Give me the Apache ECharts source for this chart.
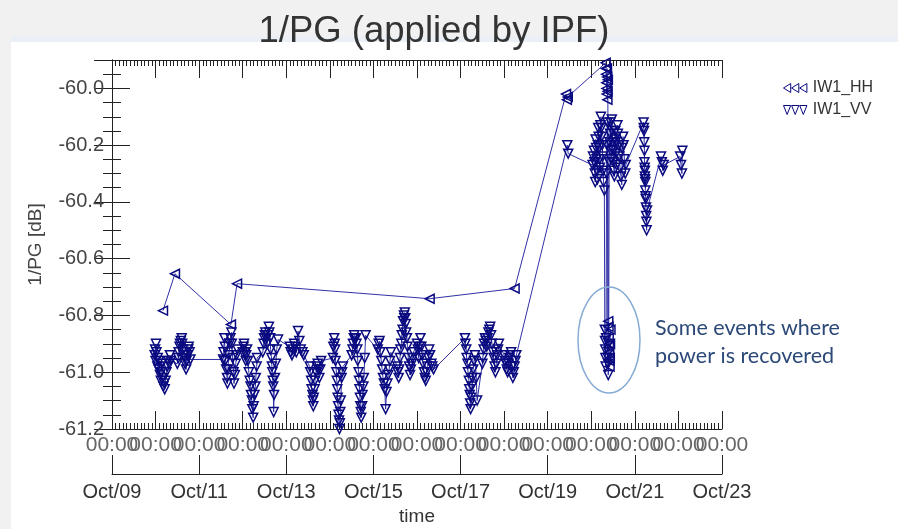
<!DOCTYPE html>
<html>
<head>
<meta charset="utf-8">
<title>1/PG (applied by IPF)</title>
<script src="https://cdn.jsdelivr.net/npm/echarts@6/dist/echarts.min.js"></script>
<style>
  html, body { margin: 0; padding: 0; background: #f1f1f1; }
  #main { width: 898px; height: 529px; }
</style>
</head>
<body>
<div id="main"></div>
<script>
// x = days since Oct/09 00:00, y = 1/PG in dB
var hhPoints = [
  [1.17, -60.783], [1.445, -60.653], [2.73, -60.832], [2.87, -60.688],
  [7.29, -60.741], [9.24, -60.705],
  [10.42, -60.02], [10.44, -60.04], [10.46, -60.03],
  [11.33, -59.91], [11.335, -59.93], [11.34, -59.95], [11.345, -59.98], [11.35, -60.00], [11.355, -60.02],
  [11.36, -59.93], [11.365, -59.96], [11.37, -60.04], [11.375, -60.01], [11.38, -59.97],
  [11.39, -60.82], [11.395, -60.84], [11.40, -60.88], [11.405, -60.91], [11.41, -60.93], [11.415, -60.96],
  [11.42, -60.98], [11.425, -60.95], [11.43, -60.90], [11.44, -60.85]
];

var vvPoints = [
  // Oct/10
  [0.98, -60.94], [0.99, -60.92], [1.00, -60.96], [1.01, -60.90], [1.02, -60.93], [1.04, -60.98],
  [1.05, -60.95], [1.07, -60.99], [1.08, -60.96], [1.10, -61.01], [1.12, -61.03], [1.13, -61.00],
  [1.15, -60.97], [1.17, -61.02], [1.18, -61.05], [1.20, -61.04], [1.21, -61.06], [1.23, -61.03],
  [1.25, -61.00], [1.27, -60.98], [1.29, -60.96], [1.31, -60.97], [1.33, -60.94], [1.35, -60.96],
  [1.50, -60.97], [1.52, -60.95], [1.53, -60.93], [1.55, -60.91], [1.56, -60.90], [1.58, -60.89],
  [1.60, -60.88], [1.61, -60.90], [1.63, -60.92], [1.65, -60.94], [1.66, -60.95], [1.68, -60.97],
  [1.70, -60.99], [1.71, -60.96], [1.73, -60.94], [1.75, -60.92], [1.76, -60.91], [1.78, -60.93], [1.80, -60.955],
  // Oct/11 - Oct/12
  [2.55, -60.955], [2.56, -60.93], [2.58, -60.88], [2.59, -60.91], [2.60, -60.96], [2.62, -60.99],
  [2.64, -61.02], [2.65, -61.04], [2.66, -60.99], [2.68, -60.94], [2.70, -60.90], [2.72, -60.88],
  [2.74, -60.86], [2.75, -60.90], [2.77, -60.95], [2.79, -61.00], [2.80, -61.04], [2.82, -61.01],
  [2.84, -60.97], [2.86, -60.94], [2.88, -60.92],
  [3.00, -60.93], [3.02, -60.91], [3.03, -60.90], [3.05, -60.93], [3.07, -60.96], [3.08, -60.94],
  [3.10, -60.92], [3.12, -60.96], [3.14, -61.00], [3.16, -61.03], [3.18, -61.05], [3.19, -61.08],
  [3.21, -61.10], [3.22, -61.13], [3.24, -61.16], [3.25, -61.12], [3.27, -61.08], [3.29, -61.05],
  [3.30, -61.02], [3.32, -60.98], [3.33, -60.95],
  [3.46, -60.93], [3.48, -60.90], [3.49, -60.88], [3.51, -60.87], [3.52, -60.86], [3.54, -60.88],
  [3.56, -60.90], [3.58, -60.87], [3.60, -60.84], [3.61, -60.86], [3.63, -60.88], [3.64, -60.92],
  [3.66, -60.95], [3.67, -60.98], [3.68, -61.00], [3.69, -61.03], [3.70, -61.05], [3.71, -61.14],
  [3.72, -61.08], [3.74, -61.02], [3.76, -60.97], [3.78, -60.92], [3.81, -60.885],
  // Oct/13
  [4.08, -60.91], [4.10, -60.93], [4.13, -60.94], [4.15, -60.92], [4.18, -60.90], [4.20, -60.91],
  [4.23, -60.93], [4.27, -60.855], [4.30, -60.89], [4.33, -60.92], [4.37, -60.93], [4.40, -60.94],
  [4.54, -60.98], [4.55, -61.00], [4.57, -61.03], [4.58, -61.06], [4.60, -61.08], [4.61, -61.10],
  [4.62, -61.12], [4.63, -61.09], [4.65, -61.06], [4.66, -61.03], [4.68, -61.00], [4.70, -60.98],
  [4.72, -60.97], [4.74, -60.99], [4.76, -61.02], [4.78, -60.99], [4.80, -60.96],
  [5.07, -60.95], [5.08, -60.91], [5.10, -60.88], [5.11, -60.90], [5.12, -60.92], [5.13, -60.96],
  [5.15, -61.00], [5.16, -61.03], [5.17, -61.06], [5.18, -61.09], [5.19, -61.12], [5.20, -61.15],
  [5.21, -61.17], [5.22, -61.20], [5.23, -61.18], [5.24, -61.14], [5.25, -61.10], [5.27, -61.02],
  [5.28, -61.00], [5.30, -60.98],
  // Oct/14 - Oct/15
  [5.50, -60.94], [5.52, -60.92], [5.53, -60.90], [5.55, -60.88], [5.56, -60.87], [5.58, -60.88],
  [5.60, -60.88], [5.61, -60.90], [5.63, -60.92], [5.64, -60.96], [5.66, -61.00], [5.67, -61.03],
  [5.68, -61.06], [5.69, -61.09], [5.70, -61.12], [5.71, -61.14], [5.72, -61.16], [5.74, -61.12],
  [5.75, -61.08], [5.77, -61.05], [5.78, -61.02], [5.80, -60.95], [5.82, -60.87],
  [6.10, -60.92], [6.12, -60.90], [6.14, -60.89], [6.16, -60.93], [6.18, -60.96], [6.20, -60.99],
  [6.22, -61.02], [6.24, -61.04], [6.26, -61.06], [6.28, -61.13], [6.30, -61.07], [6.32, -61.04],
  [6.34, -61.01], [6.36, -60.99], [6.38, -60.96], [6.40, -60.93],
  [6.55, -60.98], [6.56, -61.00], [6.58, -61.02], [6.59, -60.99], [6.61, -60.95], [6.62, -60.92],
  [6.64, -60.90], [6.65, -60.87], [6.67, -60.85], [6.68, -60.82], [6.70, -60.80], [6.71, -60.81],
  [6.72, -60.79], [6.73, -60.81], [6.74, -60.83], [6.75, -60.86], [6.77, -60.88], [6.78, -60.91],
  [6.80, -60.95], [6.82, -60.98], [6.84, -61.01], [6.86, -60.99], [6.88, -60.97], [6.90, -60.95], [6.92, -60.93],
  [7.00, -60.90], [7.02, -60.92], [7.04, -60.95], [7.06, -60.91], [7.08, -60.88], [7.10, -60.91],
  [7.12, -60.94], [7.14, -60.97], [7.16, -61.00], [7.18, -61.02], [7.20, -61.03], [7.22, -61.00],
  [7.24, -60.98], [7.26, -60.95], [7.28, -60.92], [7.30, -60.94], [7.33, -60.97], [7.35, -60.98], [7.38, -60.99],
  // Oct/17 - Oct/18
  [8.10, -60.88], [8.11, -60.90], [8.13, -60.92], [8.14, -60.95], [8.16, -60.97], [8.17, -61.00],
  [8.19, -61.03], [8.20, -61.06], [8.21, -61.08], [8.22, -61.11], [8.23, -61.13], [8.24, -61.09],
  [8.26, -61.05], [8.27, -61.02], [8.29, -60.99], [8.31, -60.96], [8.33, -60.94], [8.36, -61.02], [8.38, -61.10],
  [8.50, -60.97], [8.51, -60.95], [8.53, -60.92], [8.54, -60.90], [8.56, -60.88], [8.58, -60.89],
  [8.60, -60.91], [8.62, -60.88], [8.64, -60.86], [8.66, -60.85], [8.68, -60.84], [8.70, -60.87],
  [8.72, -60.90], [8.74, -60.93], [8.76, -60.95], [8.78, -60.98], [8.80, -61.00], [8.82, -60.97],
  [8.84, -60.94], [8.86, -60.92], [8.88, -60.90],
  [9.00, -60.94], [9.02, -60.96], [9.04, -60.97], [9.06, -60.99], [9.08, -61.00], [9.10, -60.97],
  [9.12, -60.95], [9.14, -60.94], [9.16, -60.93], [9.18, -60.98], [9.20, -61.02], [9.22, -61.00],
  [9.24, -60.98], [9.26, -60.96], [9.28, -60.94],
  // Oct/19 - Oct/20
  [10.45, -60.20], [10.47, -60.23],
  [11.03, -60.27], [11.04, -60.24], [11.06, -60.22], [11.07, -60.26], [11.08, -60.30], [11.09, -60.33],
  [11.10, -60.18], [11.11, -60.21], [11.12, -60.25], [11.13, -60.29], [11.14, -60.32], [11.15, -60.20],
  [11.16, -60.14], [11.17, -60.17], [11.18, -60.21], [11.19, -60.25], [11.20, -60.28], [11.21, -60.13],
  [11.22, -60.10], [11.23, -60.14], [11.24, -60.17], [11.25, -60.20], [11.26, -60.24], [11.27, -60.29], [11.28, -60.33],
  [11.30, -60.36], [11.31, -60.85], [11.315, -60.89], [11.32, -60.92], [11.325, -60.95], [11.33, -60.98],
  [11.34, -60.88], [11.35, -60.30], [11.36, -60.20], [11.37, -60.12], [11.38, -60.95], [11.385, -60.97],
  [11.39, -61.01], [11.395, -60.93], [11.40, -60.90], [11.41, -60.26],
  [11.42, -60.19], [11.43, -60.16], [11.44, -60.12], [11.45, -60.22], [11.46, -60.25], [11.47, -60.11],
  [11.48, -60.15], [11.49, -60.19], [11.50, -60.22], [11.51, -60.26], [11.52, -60.29], [11.53, -60.31],
  [11.54, -60.18], [11.55, -60.15], [11.56, -60.19], [11.57, -60.23], [11.58, -60.27], [11.60, -60.13],
  [11.61, -60.16], [11.63, -60.20], [11.64, -60.24], [11.66, -60.28], [11.68, -60.31], [11.70, -60.34],
  [11.71, -60.21], [11.73, -60.17], [11.74, -60.20], [11.76, -60.25], [11.78, -60.30], [11.79, -60.27],
  // Oct/21 - Oct/22
  [12.20, -60.12], [12.205, -60.14], [12.21, -60.15], [12.215, -60.19], [12.22, -60.22], [12.22, -60.26],
  [12.225, -60.28], [12.23, -60.29], [12.23, -60.31], [12.235, -60.32], [12.24, -60.33], [12.24, -60.36],
  [12.245, -60.38], [12.25, -60.39], [12.255, -60.42], [12.26, -60.45], [12.265, -60.47], [12.27, -60.50], [12.28, -60.43],
  [12.60, -60.24], [12.62, -60.26], [12.64, -60.29], [12.66, -60.27],
  [13.04, -60.24], [13.06, -60.27], [13.08, -60.30], [13.09, -60.22]
];

var seriesNames = ['IW1_HH', 'IW1_VV'];
var dayLabels = ['Oct/09', 'Oct/10', 'Oct/11', 'Oct/12', 'Oct/13', 'Oct/14', 'Oct/15', 'Oct/16',
  'Oct/17', 'Oct/18', 'Oct/19', 'Oct/20', 'Oct/21', 'Oct/22', 'Oct/23'];
var hourLabel = '00:00';

var navy = '#0a0a80';
var lineNavy = '#3030a6';
var font = 'Liberation Sans';
var leftTri = 'path://M10,0L10,10L0,5Z';
var downTri = 'path://M0,0L10,0L5,10Z';

var myChart = echarts.init(document.getElementById('main'));

var hourLabelStyle = { margin: 6, fontSize: 21, fontFamily: font, color: '#666' };

function frameAxisX(pos, showLabel) {
  return {
    type: 'value', min: 0, max: 14, interval: 1, position: pos,
    axisLine: { lineStyle: { color: '#222', width: 1 } },
    axisTick: { inside: true, length: 18, lineStyle: { color: '#222' } },
    minorTick: { show: true, splitNumber: 12, length: 6, lineStyle: { color: '#222' } },
    splitLine: { show: false },
    // odd days only here, even days come from the helper axis below
    axisLabel: Object.assign({
      show: showLabel,
      formatter: function (v) { return Math.round(v) % 2 === 1 ? hourLabel : ''; }
    }, hourLabelStyle)
  };
}

function frameAxisY(pos, showLabel) {
  return {
    type: 'value', min: -61.2, max: -59.9, interval: 0.2, position: pos,
    axisLine: { lineStyle: { color: '#222', width: 1 } },
    axisTick: { inside: true, length: 18, lineStyle: { color: '#222' } },
    minorTick: { show: true, splitNumber: 4, length: 9, lineStyle: { color: '#222' } },
    splitLine: { show: false },
    axisLabel: {
      show: showLabel, margin: 8, fontSize: 20, fontFamily: font, color: '#444',
      formatter: function (v) {
        if (v > -59.95) return '';
        return v.toFixed(1);
      }
    }
  };
}

var option = {
  animation: false,
  backgroundColor: '#f1f1f1',
  title: {
    text: '1/PG (applied by IPF)',
    left: 429, top: 8, textAlign: 'center',
    textStyle: { fontSize: 36.5, fontWeight: 'normal', fontFamily: font, color: '#333' }
  },
  graphic: [
    { type: 'rect', z: -10, silent: true, shape: { x: 11, y: 36, width: 887, height: 6 }, style: { fill: '#eaf0f5' } },
    { type: 'rect', z: -10, silent: true, shape: { x: 11, y: 42, width: 887, height: 487 }, style: { fill: '#ffffff' } },
    {
      type: 'ellipse', z: 20, silent: true,
      shape: { cx: 609, cy: 340, rx: 31, ry: 53 },
      style: { fill: 'none', stroke: '#86abd4', lineWidth: 1.5 }
    },
    {
      type: 'text', z: 20, left: 655, top: 314, silent: true,
      style: {
        text: 'Some events where\npower is recovered',
        fill: '#2b4877', fontSize: 21.5, fontFamily: 'Lato', lineHeight: 28
      }
    }
  ],
  legend: {
    orient: 'vertical', left: 783, top: 80, padding: 0, itemGap: 6,
    itemWidth: 25, itemHeight: 9,
    textStyle: { fontSize: 16, fontFamily: font, color: '#333' },
    data: [
      { name: seriesNames[0], icon: 'path://M0,5L8,0L8,10Z M9,5L17,0L17,10Z M18,5L26,0L26,10Z',
        itemStyle: { color: 'rgba(255,255,255,0)', borderColor: navy, borderWidth: 1 } },
      { name: seriesNames[1], icon: 'path://M0,0L8,0L4,10Z M9,0L17,0L13,10Z M18,0L26,0L22,10Z',
        itemStyle: { color: 'rgba(255,255,255,0)', borderColor: navy, borderWidth: 1 } }
    ]
  },
  grid: { left: 112, right: 176, top: 60, bottom: 100, outerBoundsMode: 'none' },
  xAxis: [
    frameAxisX('bottom', true),
    frameAxisX('top', false),
    {
      type: 'value', min: 0, max: 14, interval: 2, position: 'bottom', offset: 45,
      axisLine: { lineStyle: { color: '#222', width: 1 } },
      axisTick: { inside: true, length: 19, lineStyle: { color: '#222' } },
      splitLine: { show: false },
      axisLabel: {
        margin: 8, fontSize: 20, fontFamily: font, color: '#333',
        showMinLabel: true, showMaxLabel: true,
        formatter: function (v) { return dayLabels[Math.round(v)]; }
      },
      name: 'time', nameLocation: 'middle', nameGap: 33,
      nameTextStyle: { fontSize: 19, fontFamily: font, color: '#333' }
    },
    {
      // even-day "00:00" labels (kept apart so neighbours are not hidden)
      type: 'value', min: 0, max: 14, interval: 2, position: 'bottom',
      axisLine: { show: false }, axisTick: { show: false }, splitLine: { show: false },
      axisLabel: Object.assign({
        showMinLabel: true, showMaxLabel: true,
        formatter: function () { return hourLabel; }
      }, hourLabelStyle)
    }
  ],
  yAxis: [
    Object.assign(frameAxisY('left', true), {
      name: '1/PG [dB]', nameLocation: 'middle', nameGap: 67,
      nameTextStyle: { fontSize: 19, fontFamily: font, color: '#444' }
    }),
    frameAxisY('right', false)
  ],
  series: [
    {
      name: seriesNames[0], type: 'line', data: hhPoints,
      symbol: leftTri, symbolSize: [9, 9], showAllSymbol: true,
      lineStyle: { color: lineNavy, width: 1 },
      itemStyle: { color: 'rgba(255,255,255,0)', borderColor: navy, borderWidth: 1.5 }
    },
    {
      name: seriesNames[1], type: 'line', data: vvPoints,
      symbol: downTri, symbolSize: [9, 9], showAllSymbol: true,
      lineStyle: { color: lineNavy, width: 1 },
      itemStyle: { color: 'rgba(255,255,255,0)', borderColor: navy, borderWidth: 1.5 }
    }
  ]
};

myChart.setOption(option);
</script>
</body>
</html>
